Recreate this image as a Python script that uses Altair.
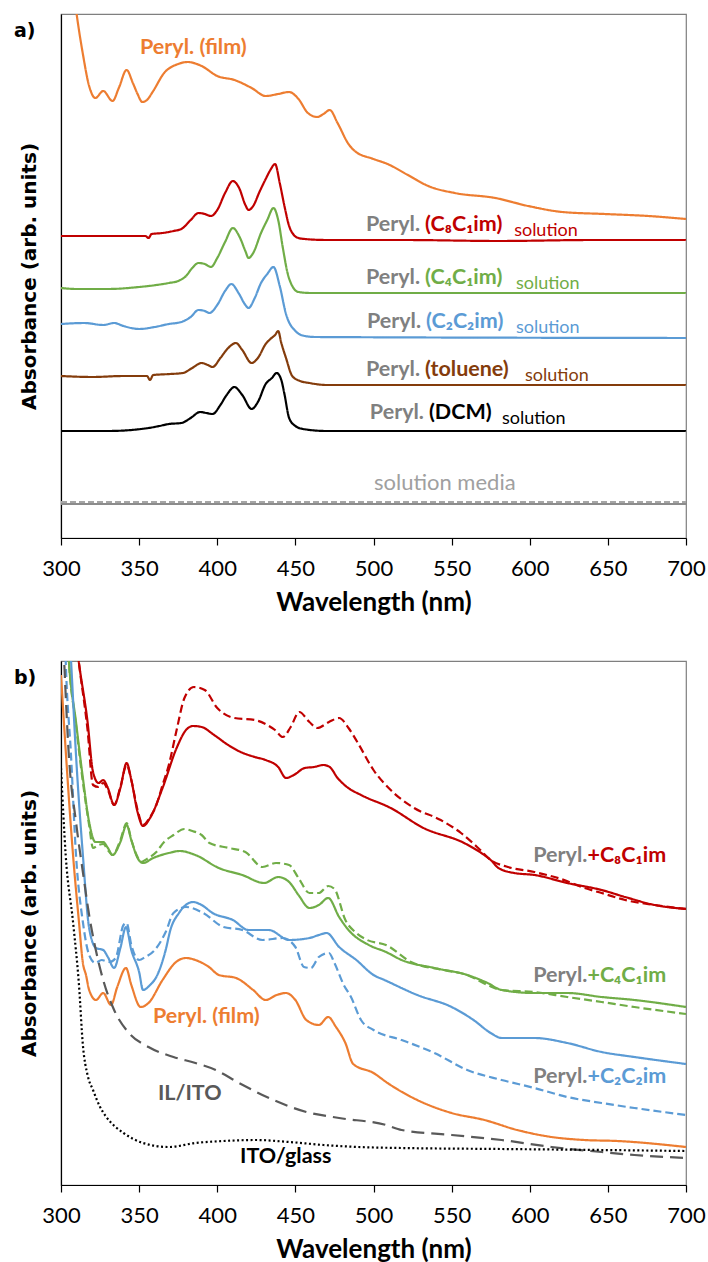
import altair as alt
import pandas as pd

# ---------------- Panel a) : solution spectra + film (arb. units, offset) ----------------
a_film_wl = [300,305,310,314,318,322,327,333,337,342,346,349,352,355,359,366,375,381,390,400,411,422,431,439,446,452,458,464,468,472,477,484,488,500,509,522,535,552,578,599,621,648,676,700]
a_film = [650,590,524,484,452,440,447,437,450,468,455,444,436,438,447,465,474,476,472,462,458,450,442,444,446,439,425,421,424,428,415,394,387,379,374,363,352,345,340,332,326,324,322,319]

a_c8_wl = [300,320,340,354,356,358,365,372,377,383,388,392,396,400,405,410,414,418,420,423,427,431,434,437,440,443,446,449,452,456,470,520,580,640,700]
a_c8 = [302,302,302,302,300,304,305,307,309,318,325,324,322,328,345,357,350,333,328,332,346,359,368,374,355,332,312,303,300,299,298,298,297,298,298]

a_c4_wl = [300,310,330,350,361,369,375,380,384,388,392,396,400,405,410,414,418,420,423,428,432,436,439,442,445,448,452,460,700]
a_c4 = [250,249,249,251,253,255,257,262,270,275,274,271,280,296,310,302,287,280,285,305,318,330,318,290,265,252,246,245,245]

a_c2_wl = [300,315,327,334,340,350,360,369,377,383,388,392,395,400,405,409,414,418,420,424,428,432,436,440,444,450,456,463,700]
a_c2 = [214,215,213,215,212,209,211,214,216,221,228,227,225,233,247,254,244,233,230,240,255,264,271,252,224,207,202,201,200]

a_tol_wl = [300,320,340,355,357,359,370,378,384,390,394,397,402,407,412,416,422,426,431,434,437,439,441,444,448,453,459,470,700]
a_tol = [162,161,162,162,158,163,164,165,170,175,173,171,180,190,195,188,175,180,194,199,203,207,195,180,162,157,155,153,153]

a_dcm_wl = [300,330,356,363,369,377,383,389,393,397,402,406,411,416,422,426,431,435,438,441,443,446,450,455,470,700]
a_dcm = [107,107,110,112,114,115,120,126,125,124,133,143,151,143,129,136,154,160,165,158,144,120,112,109,107,107]

a_media_wl = [300,700]
a_media_solid = [34,34]
a_media_dash = [36,36]

# ---------------- Panel b) : films ----------------
b_c8_wl = [300,306,311,317,320.5,324,327,330,334,338,342,345,349,352.5,357,365,374,380,384.5,390,398,407,415,424,431,439,444,449,456,462,468,472,477,483,492,511,532,558,569,575,580,590,603,624,646,661,680,700]
b_c8 = [700,600,528,463,413,402,405,397,380,397,422,405,373,359,367,397,437,455,459,458,450,440,433,428,425,418,407,410,417,418,420,418,407,398,390,377,357,342,332,325,317,312,310,302,295,288,280,276]

b_c8d_wl = [300,306,311,317,320.5,324,327,330,334,338,342,345,349,352.5,357,361,365,369,374,379,385,392,400,411,424,432,437,442,447,452.5,459,464,471.5,478,484,490,500,511,526,543,556,567,575,586,603,620,635,646,661,680,700]
b_c8d = [700,600,528,455,400,398,402,395,380,398,420,405,375,360,368,380,400,420,455,487,498,495,477,467,465,460,455,448,458,473,463,457,463,467,457,442,415,395,377,365,352,337,325,318,313,306,297,292,285,280,276]

b_c4_wl = [300,305,309.6,314,318,322,327,330,333,338,342,345,349,352.5,359,369,376,386,401,416,430,439,446,452,459,465,471,478,484,497,508,518,539,560,573,582,603,624,646,667,700]
b_c4 = [700,525,463,407,363,343,343,337,330,343,360,345,327,322,327,332,334,330,317,310,302,308,303,290,277,280,287,268,255,240,233,225,217,210,202,195,192,192,188,185,178]

b_c4d_wl = [300,305,309.6,314,318,320.5,324,327,330,333,338,342,345,349,351,355,361,366,372,379,384,390,395,407.5,418,429,437.6,446,452,459,465,471,475,482,489,496,508,524,545,560,573,582,603,624,646,667,700]
b_c4d = [700,525,460,403,360,337,340,341,335,330,345,362,345,328,323,326,333,343,350,356,354,350,342,337,333,318,322,320,307,292,292,299,296,265,252,245,240,223,215,210,200,195,193,188,183,178,171]

b_c2_wl = [300,306.4,309.6,314,318,322.4,327,330,334,338,341.6,345,350,352.5,357,361,367,370,375.5,384.5,390,397,410,420,433,446,459,465,470,478,489,500,507,528,550,564,575,582,590,603,624,646,667,700]
b_c2 = [700,525,430,330,257,237,235,228,217,237,258,235,213,195,200,208,235,255,272,283,280,272,265,255,255,245,247,250,252,238,225,210,205,190,178,165,152,147,147,147,142,133,128,121]

b_c2d_wl = [300,303,306.4,309.6,314,318,322,326,331,335,340,342,345,350,354,360,367,372,380,391,404,416,429,442,450,455.5,460,465,471.5,475,481,485.6,492,500,518,539,560,582,603,624,646,667,700]
b_c2d = [720,525,430,330,263,230,222,225,223,227,260,262,240,225,228,235,253,272,278,272,258,255,245,247,238,218,217,228,232,222,200,188,165,155,145,132,115,105,97,88,82,77,70]

b_film_wl = [300,303.2,307.7,311.5,314,316,318,322.4,327,332,336,341.6,345,351,356,365,373.6,380,386,394.7,401,412,423,431,438,444,450,457,465,471,476,482,487,500,509,528,550,571,592,614,635,656,700]
b_film = [510,430,330,263,222,210,195,185,192,180,198,217,200,178,182,205,223,227,225,218,210,207,195,185,190,192,185,165,160,168,158,142,121,112,102,85,72,65,55,48,45,44,38]

b_il_wl = [300,302,305,309.6,314,318,322,327,334,343.5,356,372,386,399,414,436,457,478,508,518,550,582,614,646,667,700]
b_il = [600,525,430,363,313,270,237,205,175,152,138,128,122,115,102,85,73,67,60,55,50,45,38,33,30,27]

b_ito_wl = [300,303,307.7,311.5,314,317,320.5,325,329,335,340,352.5,369,386,404,425,446,468,490,518,582,646,700]
b_ito = [417,330,263,200,140,110,95,78,68,58,52,42,38,42,44,45,43,40,38,37,36,35,34]

x_ticks = [300, 350, 400, 450, 500, 550, 600, 650, 700]

ORANGE = "#ED7D31"
RED = "#C00000"
GREEN = "#70AD47"
BLUE = "#5B9BD5"
BROWN = "#843C0C"
BLACK = "#000000"
GRAY = "#808080"

W, H = 625, 524
FONT = "Lato"
BOLD = 21.5


def frame(series):
    rows = []
    for name, wl, vals in series:
        for x, y in zip(wl, vals):
            rows.append({"series": name, "wl": x, "v": y})
    return pd.DataFrame(rows)


x_enc = alt.X("wl:Q", scale=alt.Scale(domain=[300, 700], nice=False, zero=False),
              axis=alt.Axis(values=x_ticks, title="Wavelength (nm)", grid=False,
                            labelFont=FONT, labelFontSize=22, labelColor="black",
                            titleFont=FONT, titleFontSize=26, titleFontWeight="bold",
                            titleColor="black", domainColor="black", domainWidth=1.2,
                            tickColor="black", tickSize=7, tickWidth=1.2,
                            labelPadding=13, titlePadding=10, labelFlush=False))
y_enc = alt.Y("v:Q", scale=alt.Scale(domain=[0, 524], nice=False, zero=False),
              axis=alt.Axis(title="Absorbance (arb. units)", labels=False, ticks=False,
                            grid=False, domainColor="black", domainWidth=1.2,
                            titleFont="DejaVu Sans", titleFontSize=20,
                            titleFontWeight="bold", titleColor="black", titlePadding=22))


def lines(df, names, colors, dashes, widths):
    return alt.Chart(df).mark_line(clip=True, interpolate="monotone").encode(
        x=x_enc, y=y_enc,
        color=alt.Color("series:N", scale=alt.Scale(domain=names, range=colors), legend=None),
        strokeDash=alt.StrokeDash("series:N", scale=alt.Scale(domain=names, range=dashes), legend=None),
        strokeWidth=alt.StrokeWidth("series:N", scale=alt.Scale(domain=names, range=widths), legend=None),
        detail="series:N",
    )


def texts(df, align, size, weight, dx=0):
    return alt.Chart(df).mark_text(align=align, baseline="alphabetic", font=FONT,
                                   fontSize=size, fontWeight=weight, dx=dx).encode(
        x=x_enc, y=y_enc, text="text:N", color=alt.Color("color:N", scale=None))


def panel_label(s):
    return alt.Chart(pd.DataFrame({"text": [s]})).mark_text(
        align="left", baseline="alphabetic", font="DejaVu Sans", fontWeight="bold",
        fontSize=19, color="black").encode(x=alt.value(-47), y=alt.value(23), text="text:N")


# ---- panel a
a_names = ["film", "c8", "c4", "c2", "tol", "dcm", "media", "media_d"]
df_a = frame([
    ("film", a_film_wl, a_film), ("c8", a_c8_wl, a_c8), ("c4", a_c4_wl, a_c4),
    ("c2", a_c2_wl, a_c2), ("tol", a_tol_wl, a_tol), ("dcm", a_dcm_wl, a_dcm),
    ("media", a_media_wl, a_media_solid), ("media_d", a_media_wl, a_media_dash),
])
a_lines = lines(df_a, a_names,
                [ORANGE, RED, GREEN, BLUE, BROWN, BLACK, "#8C8C8C", "#A6A6A6"],
                [[1, 0]] * 6 + [[1, 0], [6, 3]],
                [2.2] * 6 + [4, 1.8])

a_peryl = pd.DataFrame({"text": ["Peryl."] * 5, "wl": [529.8, 529.8, 530.4, 529.8, 532.3],
                        "v": [307, 254, 210, 162, 119], "color": [GRAY] * 5})
a_paren = pd.DataFrame({"text": ["(C₈C₁im)", "(C₄C₁im)", "(C₂C₂im)", "(toluene)", "(DCM)"],
                        "wl": [529.8, 529.8, 530.4, 529.8, 532.3],
                        "v": [307, 254, 210, 162, 119],
                        "color": [RED, GREEN, BLUE, BROWN, BLACK]})
a_sol = pd.DataFrame({"text": ["solution"] * 5, "wl": [590, 591.2, 591.2, 597, 582.2],
                      "v": [302, 249, 205, 157, 114], "color": [RED, GREEN, BLUE, BROWN, BLACK]})
a_film_lbl = pd.DataFrame({"text": ["Peryl. (film)"], "wl": [350.6], "v": [484], "color": [ORANGE]})
a_media_lbl = pd.DataFrame({"text": ["solution media"], "wl": [500.3], "v": [48], "color": ["#A0A0A0"]})

chart_a = alt.layer(
    a_lines,
    texts(a_peryl, "right", BOLD, "bold"),
    texts(a_paren, "left", BOLD, "bold", dx=5),
    texts(a_sol, "left", 18, "normal"),
    texts(a_film_lbl, "left", BOLD, "bold"),
    texts(a_media_lbl, "left", 22, "normal"),
    panel_label("a)"),
).properties(width=W, height=H)

# ---- panel b
b_names = ["c8", "c8d", "c4", "c4d", "c2", "c2d", "film", "il", "ito"]
df_b = frame([
    ("c8", b_c8_wl, b_c8), ("c8d", b_c8d_wl, b_c8d), ("c4", b_c4_wl, b_c4),
    ("c4d", b_c4d_wl, b_c4d), ("c2", b_c2_wl, b_c2), ("c2d", b_c2d_wl, b_c2d),
    ("film", b_film_wl, b_film), ("il", b_il_wl, b_il), ("ito", b_ito_wl, b_ito),
])
b_lines = lines(df_b, b_names,
                [RED, RED, GREEN, GREEN, BLUE, BLUE, ORANGE, "#595959", BLACK],
                [[1, 0], [8, 4], [1, 0], [8, 4], [1, 0], [8, 4], [1, 0], [13, 7], [2, 2.5]],
                [2.2, 2.2, 2.2, 2.2, 2.2, 2.2, 2.2, 2.5, 2.2])

b_peryl = pd.DataFrame({"text": ["Peryl."] * 3, "wl": [636.9] * 3, "v": [323, 203, 102],
                        "color": [GRAY] * 3})
b_plus = pd.DataFrame({"text": ["+C₈C₁im", "+C₄C₁im", "+C₂C₂im"], "wl": [636.9] * 3,
                       "v": [323, 203, 102], "color": [RED, GREEN, BLUE]})
b_single = pd.DataFrame({"text": ["Peryl. (film)", "IL/ITO", "ITO/glass"],
                         "wl": [358.9, 362, 414.6], "v": [162, 85, 22],
                         "color": [ORANGE, "#595959", BLACK]})

chart_b = alt.layer(
    b_lines,
    texts(b_peryl, "right", BOLD, "bold"),
    texts(b_plus, "left", BOLD, "bold"),
    texts(b_single, "left", BOLD, "bold"),
    panel_label("b)"),
).properties(width=W, height=H)

chart = alt.vconcat(chart_a, chart_b, spacing=123, bounds="flush").resolve_scale(
    color="independent", strokeDash="independent", strokeWidth="independent"
).properties(
    padding={"left": 13, "top": 13, "right": 2, "bottom": 2}
).configure_view(stroke="#7F7F7F", strokeWidth=1.2)

chart.save("out.html", embed_options={"renderer": "svg", "actions": False})
